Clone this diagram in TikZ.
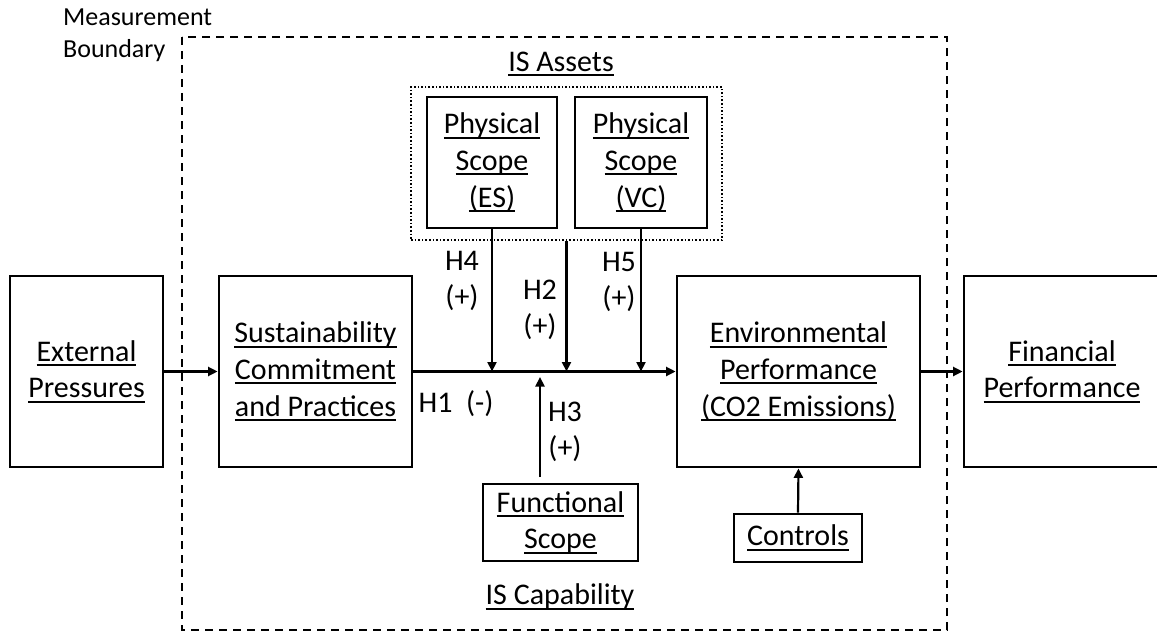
\documentclass[tikz,border=0pt]{standalone}
\usepackage{fontspec}
\setmainfont{Carlito}
\usetikzlibrary{arrows.meta}
\newcommand\ulx[1]{\setbox0\hbox{#1}\rlap{\vrule height -0.1em depth 0.165em width \wd0}\box0}
\begin{document}
\begin{tikzpicture}[x=1pt,y=-1pt,
  box/.style={draw, line width=2.8pt, rectangle, inner sep=0pt, align=center,
              font=\fontsize{30}{36.6}\selectfont},
  lab/.style={inner sep=0pt, align=center, font=\fontsize{30}{36.6}\selectfont},
  arr/.style={line width=2.2pt, -{Triangle[length=9.5pt,width=9pt]}},
  boundary/.style={draw, line width=2.6pt, dash pattern=on 8pt off 6pt},
  assetbox/.style={draw, line width=2pt, dash pattern=on 1.6pt off 2pt, rectangle, inner sep=0pt}]
\useasboundingbox (0,0) rectangle (1157,634);

% measurement boundary
\draw[boundary] (182,37) rectangle (947,630);
\node[inner sep=0pt, align=left, anchor=west, font=\fontsize{26}{31.7}\selectfont] (mb) at (63,35.5) {Measurement\\Boundary};

% IS assets group
\node[assetbox, minimum width=311pt, minimum height=153pt] (assets) at (566.5,163.5) {};
\node[lab, anchor=base] (isa) at (561,71) {\ulx{IS Assets}};
\node[box, minimum width=130pt, minimum height=131pt] (es) at (492,162.5) {\ulx{Physical}\\\ulx{Scope}\\\ulx{(ES)}};
\node[box, minimum width=132pt, minimum height=131pt] (vc) at (641,162.5) {\ulx{Physical}\\\ulx{Scope}\\\ulx{(VC)}};

% main boxes
\node[box, minimum width=153pt, minimum height=191pt] (ext) at (86.5,371.5) {\ulx{External}\\\ulx{Pressures}};
\node[box, minimum width=193pt, minimum height=191pt] (sus) at (315.5,371.5) {\ulx{Sustainability}\\\ulx{Commitment}\\\ulx{and Practices}};
\node[box, minimum width=243pt, minimum height=191pt] (env) at (798.5,371.5) {\ulx{Environmental}\\\ulx{Performance}\\\ulx{(CO2 Emissions)}};
\node[box, minimum width=196pt, minimum height=191pt] (fin) at (1062,371.5) {\ulx{Financial}\\\ulx{Performance}};

% lower boxes
\node[box, minimum width=155pt, minimum height=77pt] (func) at (560.5,522.5) {\ulx{Functional}\\\ulx{Scope}};
\node[box, minimum width=128pt, minimum height=48pt] (ctrl) at (798,538) {\ulx{Controls}};
\node[lab] (isc) at (560,597) {\ulx{IS Capability}};

% hypothesis labels
\node[lab] (h4) at (462,281) {H4\\(+)};
\node[lab] (h2) at (540,310) {H2\\(+)};
\node[lab] (h5) at (619,282) {H5\\(+)};
\node[lab] (h3) at (565,432) {H3\\(+)};
\node[lab] (h1) at (456,404) {H1~~(-)};

% connectors
\draw[arr] (ext.east) -- (sus.west);
\draw[arr] (sus.east) -- (env.west);
\draw[arr] (env.east) -- (fin.west);
\draw[arr] (es.south) -- (es.south |- sus.east);
\draw[arr] (assets.south) -- (assets.south |- sus.east);
\draw[arr] (vc.south) -- (vc.south |- sus.east);
\coordinate (h3s) at (540,477);
\coordinate (h3e) at (540,377);
\draw[arr] (h3s) -- (h3e);
\draw[arr] (ctrl.north) -- (env.south);
\end{tikzpicture}
\end{document}
